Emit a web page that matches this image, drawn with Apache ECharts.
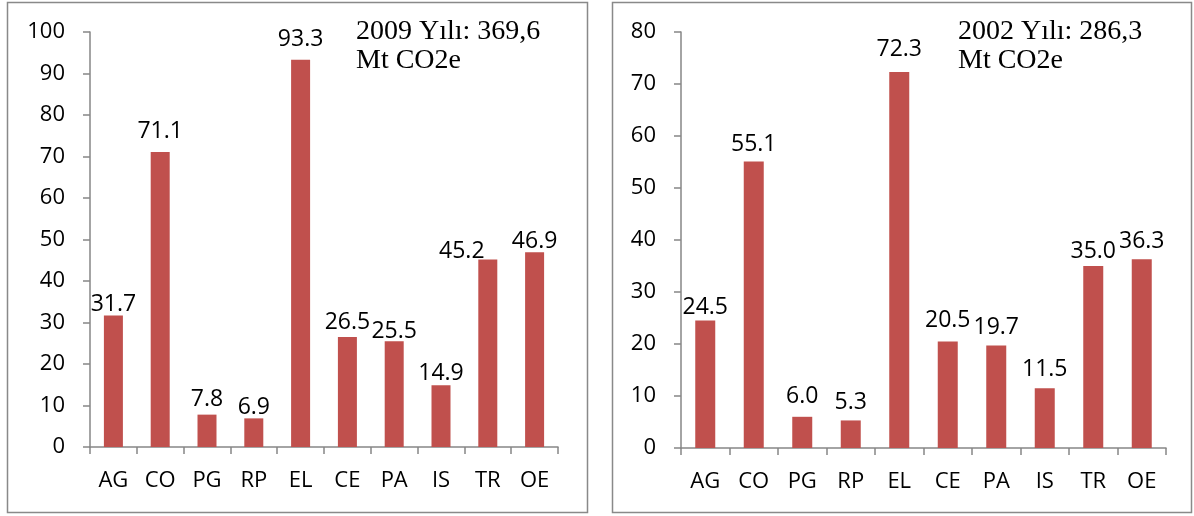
<!DOCTYPE html>
<html>
<head>
<meta charset="utf-8">
<script src="https://cdn.jsdelivr.net/npm/echarts@6/dist/echarts.min.js"></script>
<style>
  html, body { margin: 0; padding: 0; background: #fff; }
  #chart { width: 1194px; height: 516px; }
</style>
</head>
<body>
<div id="chart"></div>
<script>
// Data
var categories = ['AG', 'CO', 'PG', 'RP', 'EL', 'CE', 'PA', 'IS', 'TR', 'OE'];
var values2009 = [31.7, 71.1, 7.8, 6.9, 93.3, 26.5, 25.5, 14.9, 45.2, 46.9];
var values2002 = [24.5, 55.1, 6.0, 5.3, 72.3, 20.5, 19.7, 11.5, 35.0, 36.3];
var title2009 = '2009 Yılı: 369,6\nMt CO2e';
var title2002 = '2002 Yılı: 286,3\nMt CO2e';

// label placement tweaks (the labels were nudged by hand in the original)
var labelGap2009 = [-1, 9, 4, -1, 9, 3, -2, 0, -4, -1];
var labelShift2009 = [0, 0, 0, 0, 0, 0, 0, 0, -26, 0];
var labelGap2002 = [2, 6, 9, 6, 11, 9, 7, 7, 3, 6];

var barColor = '#C0504D';
var axisColor = '#868686';
var sans = '"Open Sans", "Noto Sans", sans-serif';
var fontSize = 22;

function xAxisOf(gridIndex) {
    return {
        type: 'category',
        gridIndex: gridIndex,
        data: categories,
        axisLine: { lineStyle: { color: axisColor, width: 1.5 } },
        axisTick: { show: true, length: 7, alignWithLabel: false, lineStyle: { color: axisColor, width: 1.5 } },
        axisLabel: { color: '#000', fontSize: fontSize, fontFamily: sans, margin: 23 }
    };
}

function yAxisOf(gridIndex, max) {
    return {
        type: 'value',
        gridIndex: gridIndex,
        min: 0,
        max: max,
        interval: 10,
        splitLine: { show: false },
        axisLine: { show: true, lineStyle: { color: axisColor, width: 1.5 } },
        axisTick: { show: true, length: 7, lineStyle: { color: axisColor, width: 1.5 } },
        axisLabel: { color: '#000', fontSize: fontSize, fontFamily: sans, margin: 25 }
    };
}

function barSeries(index, values, width, gaps, shifts) {
    return {
        type: 'bar',
        xAxisIndex: index,
        yAxisIndex: index,
        data: values.map(function (v, i) {
            return {
                value: v,
                label: { distance: gaps[i], offset: [shifts ? shifts[i] : 0, 0] }
            };
        }),
        barWidth: width,
        itemStyle: { color: barColor },
        label: {
            show: true,
            position: 'top',
            color: '#000',
            fontSize: 23,
            fontFamily: sans,
            formatter: function (p) { return p.value.toFixed(1); }
        }
    };
}

var titleStyle = { fontFamily: '"Liberation Serif", serif', fontSize: 28, lineHeight: 29, fontWeight: 'normal', color: '#000' };

var option = {
    animation: false,
    title: [
        { text: title2009, left: 351, top: 12, textStyle: titleStyle },
        { text: title2002, left: 953, top: 12, textStyle: titleStyle }
    ],
    graphic: [{
        type: 'rect',
        shape: { x: 7.5, y: 2.5, width: 580, height: 510 },
        style: { fill: 'none', stroke: '#898989', lineWidth: 1.5 }
    }, {
        type: 'rect',
        shape: { x: 612.5, y: 2.5, width: 579, height: 510 },
        style: { fill: 'none', stroke: '#898989', lineWidth: 1.5 }
    }],
    grid: [
        { left: 90, width: 468, top: 32, height: 415 },
        { left: 681, width: 485, top: 32, height: 416 }
    ],
    xAxis: [xAxisOf(0), xAxisOf(1)],
    yAxis: [yAxisOf(0, 100), yAxisOf(1, 80)],
    series: [
        barSeries(0, values2009, 19, labelGap2009, labelShift2009),
        barSeries(1, values2002, 20, labelGap2002)
    ]
};

var myChart = echarts.init(document.getElementById('chart'));
myChart.setOption(option);
</script>
</body>
</html>
